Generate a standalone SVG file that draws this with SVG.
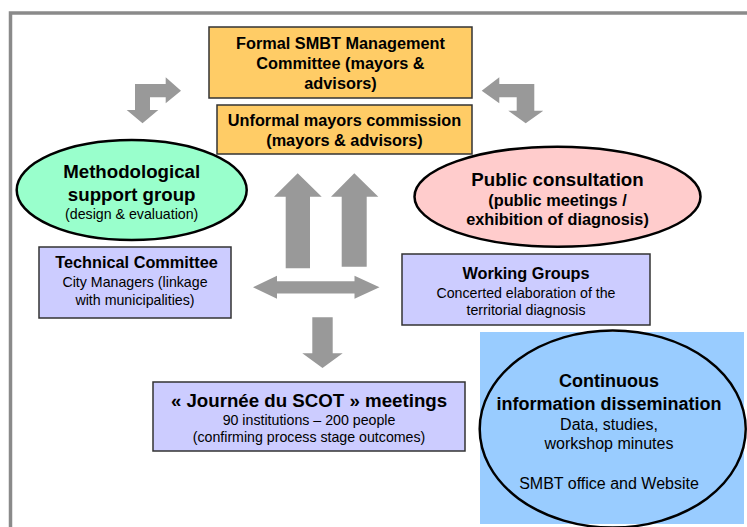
<svg xmlns="http://www.w3.org/2000/svg" width="747" height="527" viewBox="0 0 747 527">
<style>
text{font-family:"Liberation Sans",Arial,sans-serif;fill:#000;text-anchor:middle}
.b{font-weight:bold}
.big{font-size:18.7px;font-weight:bold}
.mid{font-size:16.3px;font-weight:bold}
.sm{font-size:14.2px}
.md{font-size:16px}
.box{stroke:#333;stroke-width:1.5}
.ell{stroke:#000;stroke-width:2.5}
.arr{fill:#999}
</style>
<rect width="747" height="527" fill="#fff"/>
<path d="M10.5 527 V13 H747" fill="none" stroke="#8a8a8a" stroke-width="3.5"/>
<g id="connectors">
<polygon class="arr" points="135,84 165.7,84 165.7,77.3 181,90.7 165.7,103.3 165.7,97.3 150,97.3 150,110 158.3,110 142.5,123.3 126.7,110 135,110"/>
<polygon class="arr" points="534.3,84 499.3,84 499.3,77.3 481.7,90.7 499.3,103.3 499.3,97.3 516.7,97.3 516.7,110.7 508.3,110.7 525.7,123.3 543.3,110.7 534.3,110.7"/>
<polygon class="arr" points="285.7,268.3 310,268.3 310,196.7 321.7,196.7 297.7,173.3 274,196.7 285.7,196.7"/>
<polygon class="arr" points="341.7,266.7 366.7,266.7 366.7,196.7 378.3,196.7 354.3,173.3 331,196.7 341.7,196.7"/>
<polygon class="arr" points="253,287.3 277,275.7 277,281.2 354.5,281.2 354.5,275.7 379.5,287.3 354.5,298.7 354.5,293.5 277,293.5 277,298.7"/>
<polygon class="arr" points="312.3,317.3 332.7,317.3 332.7,353.3 342.7,353.3 322.5,368 302.3,353.3 312.3,353.3"/>
</g>
<g id="formal">
<rect class="box" x="209" y="27" width="263" height="71" fill="#ffcc66"/>
<text class="mid" x="340.5" y="49">Formal SMBT Management</text>
<text class="mid" x="340.5" y="69">Committee (mayors &amp;</text>
<text class="mid" x="340.5" y="89">advisors)</text>
</g>
<g id="unformal">
<rect class="box" x="217" y="105" width="255" height="49" fill="#ffcc66"/>
<text class="mid" x="344.5" y="126">Unformal mayors commission</text>
<text class="mid" x="344.5" y="146">(mayors &amp; advisors)</text>
</g>
<g id="methodological">
<ellipse class="ell" cx="131.7" cy="190" rx="115" ry="50" fill="#99ffcc"/>
<text class="big" x="131.7" y="178">Methodological</text>
<text class="big" x="131.7" y="201">support group</text>
<text class="sm" x="131.7" y="219">(design &amp; evaluation)</text>
</g>
<g id="public">
<ellipse class="ell" cx="557.5" cy="196.7" rx="143" ry="50" fill="#ffcccc"/>
<text class="big" x="557.5" y="185.5">Public consultation</text>
<text class="mid" x="557.5" y="205.5">(public meetings /</text>
<text class="mid" x="557.5" y="225">exhibition of diagnosis)</text>
</g>
<g id="technical">
<rect class="box" x="39" y="247" width="192" height="71" fill="#ccccff"/>
<text class="mid" x="136.5" y="268">Technical Committee</text>
<text class="sm" x="135" y="287">City Managers (linkage</text>
<text class="sm" x="135" y="304.5">with municipalities)</text>
</g>
<g id="working">
<rect class="box" x="402" y="254" width="248" height="71" fill="#ccccff"/>
<text class="mid" x="526" y="279">Working Groups</text>
<text class="sm" x="526" y="297.5">Concerted elaboration of the</text>
<text class="sm" x="526" y="314.5">territorial diagnosis</text>
</g>
<g id="journee">
<rect class="box" x="153" y="382" width="312" height="69" fill="#ccccff"/>
<text class="big" x="309" y="407">« Journée du SCOT » meetings</text>
<text class="sm" x="309" y="424.5">90 institutions – 200 people</text>
<text class="sm" x="309" y="441.5">(confirming process stage outcomes)</text>
</g>
<g id="continuous">
<rect x="480" y="332" width="264" height="192" fill="#99ccff"/>
<ellipse cx="612.7" cy="429" rx="133" ry="98.5" fill="none" stroke="#000" stroke-width="2.5"/>
<text class="big" x="609" y="386.5" style="font-size:18px">Continuous</text>
<text class="big" x="609" y="410" style="font-size:18px">information dissemination</text>
<text class="md" x="609" y="429.5">Data, studies,</text>
<text class="md" x="609" y="449">workshop minutes</text>
<text class="md" x="609" y="489">SMBT office and Website</text>
</g>
</svg>
